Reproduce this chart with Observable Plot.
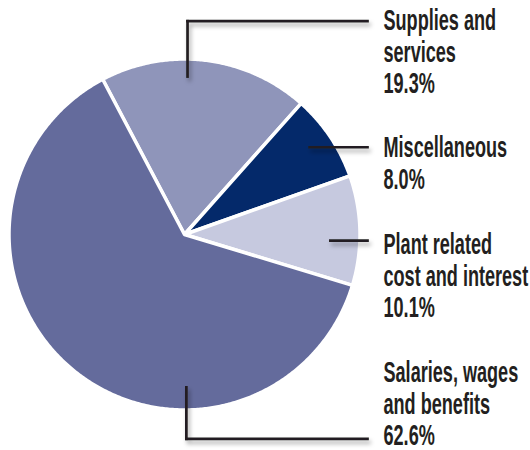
<!DOCTYPE html>
<html><head><meta charset="utf-8">
<script src="https://cdn.jsdelivr.net/npm/d3@7"></script>
<script src="https://cdn.jsdelivr.net/npm/@observablehq/plot@0.6"></script>
<style>html,body{margin:0;padding:0;background:#fff;}</style>
</head><body><div id="chart"></div>
<script>
// ---- data ----
const categories = ["Supplies and services", "Miscellaneous", "Plant related cost and interest", "Salaries, wages and benefits"];
const values = [19.3, 8.0, 10.1, 62.6];
const nameLines = [["Supplies and", "services"], ["Miscellaneous"], ["Plant related", "cost and interest"], ["Salaries, wages", "and benefits"]];
const colors = ["#8f95ba", "#04296a", "#c6c9df", "#646b9c"];

// ---- layout ----
const W = 530, H = 450, CX = 184, CY = 234, R = 175.5;
const START = -27.8;                       // degrees clockwise from 12 o'clock
const leaderAngle = [1.1, 55.1, 92.4, 179.3];
const leaderRadius = [0.9, 0.869, 0.832, 0.871];
const leaderElbowY = [20.7, null, null, 438.3];
const leaderEndX = 367;
const labelX = 383, labelRight = 528, firstBaseline = [29.5, 156.7, 253.3, 381.5], lineStep = 31.7;
const FS = 29;

const toU = px => (px - CX) / R, toV = py => (CY - py) / R;

const total = d3.sum(values);
let acc = START;
const slices = [];
values.forEach((val, i) => {
  const a0 = acc, a1 = acc + val / total * 360; acc = a1;
  const n = Math.max(2, Math.ceil((a1 - a0) / 0.5));
  slices.push({cat: categories[i], u: 0, v: 0});
  for (let k = 0; k <= n; k++) {
    const a = (a0 + (a1 - a0) * k / n) * Math.PI / 180;
    slices.push({cat: categories[i], u: Math.sin(a), v: Math.cos(a)});
  }
});

const links = [];
leaderAngle.forEach((deg, i) => {
  const a = deg * Math.PI / 180;
  const u0 = leaderRadius[i] * Math.sin(a), v0 = leaderRadius[i] * Math.cos(a);
  if (leaderElbowY[i] != null) {
    const v1 = toV(leaderElbowY[i]);
    links.push({x1: u0, y1: v0, x2: u0, y2: v1});
    links.push({x1: u0, y1: v1, x2: toU(leaderEndX), y2: v1});
  } else {
    links.push({x1: u0, y1: v0, x2: toU(leaderEndX), y2: v0});
  }
});

const texts = [];
nameLines.forEach((lines, i) => {
  [...lines, values[i].toFixed(1) + "%"].forEach((t, k) => {
    texts.push({t, u: toU(labelX), v: toV(firstBaseline[i] + k * lineStep - 0.32 * FS)});
  });
});

const svg = Plot.plot({
  width: W, height: H, margin: 0,
  x: {domain: [-1, 1], range: [CX - R, CX + R], axis: null},
  y: {domain: [-1, 1], range: [CY + R, CY - R], axis: null},
  color: {domain: categories, range: colors},
  style: {background: "white"},
  marks: [
    Plot.line(slices, {x: "u", y: "v", z: "cat", fill: "cat", stroke: "white", strokeWidth: 3.5, curve: "linear-closed"}),
    Plot.link(links, {x1: "x1", y1: "y1", x2: "x2", y2: "y2", stroke: "#231f20", strokeWidth: 2.7, strokeLinecap: "square"}),
    Plot.text(texts, {x: "u", y: "v", text: "t", textAnchor: "start", lineAnchor: "middle", fontSize: FS,
      fontFamily: "'Liberation Sans Narrow', 'Liberation Sans', Arial, sans-serif", fontWeight: "bold", fill: "#231f20"})
  ]
});

// drop shadow on leader lines
const ns = "http://www.w3.org/2000/svg";
const defs = document.createElementNS(ns, "defs");
defs.innerHTML = `<filter id="sh" filterUnits="userSpaceOnUse" x="0" y="0" width="${W}" height="${H}">
  <feDropShadow dx="2" dy="3.5" stdDeviation="2" flood-color="#000" flood-opacity="0.35"/></filter>`;
svg.insertBefore(defs, svg.firstChild);
const linkG = svg.querySelector('g[aria-label="link"]');
if (linkG) linkG.setAttribute("filter", "url(#sh)");

document.getElementById("chart").appendChild(svg);

// condensed lettering: fit the longest label line into the space right of the leaders
const textG = svg.querySelector('g[aria-label="text"]');
if (textG) {
  const maxLen = d3.max(Array.from(textG.querySelectorAll("text")), t => t.getBBox().width);
  const SX = Math.min(1, (labelRight - labelX) / maxLen);
  textG.setAttribute("transform", (textG.getAttribute("transform") || "") + ` translate(${labelX},0) scale(${SX},1) translate(${-labelX},0)`);
}
</script>
</body></html>
